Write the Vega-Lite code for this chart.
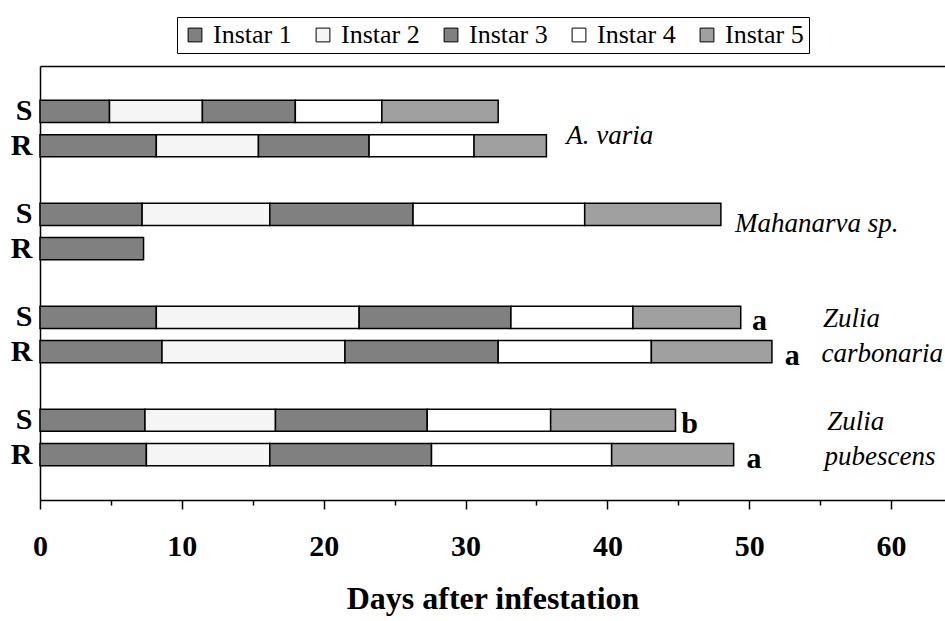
{
  "$schema": "https://vega.github.io/schema/vega-lite/v6.json",
  "width": 905,
  "height": 434,
  "autosize": {"type": "none"},
  "padding": {"left": 40, "top": 66, "right": 0, "bottom": 121},
  "background": "white",
  "config": {
    "font": "Liberation Serif",
    "view": {"stroke": null},
    "axis": {"grid": false, "domainColor": "black", "domainWidth": 1.5, "tickColor": "black", "tickWidth": 1.5}
  },
  "datasets": {
    "segments": [
      {"row": "A. varia S", "instar": "Instar 1", "start": 0, "end": 4.9},
      {"row": "A. varia S", "instar": "Instar 2", "start": 4.9, "end": 11.45},
      {"row": "A. varia S", "instar": "Instar 3", "start": 11.45, "end": 18.0},
      {"row": "A. varia S", "instar": "Instar 4", "start": 18.0, "end": 24.1},
      {"row": "A. varia S", "instar": "Instar 5", "start": 24.1, "end": 32.3},
      {"row": "A. varia R", "instar": "Instar 1", "start": 0, "end": 8.2},
      {"row": "A. varia R", "instar": "Instar 2", "start": 8.2, "end": 15.4},
      {"row": "A. varia R", "instar": "Instar 3", "start": 15.4, "end": 23.2},
      {"row": "A. varia R", "instar": "Instar 4", "start": 23.2, "end": 30.6},
      {"row": "A. varia R", "instar": "Instar 5", "start": 30.6, "end": 35.7},
      {"row": "Mahanarva S", "instar": "Instar 1", "start": 0, "end": 7.2},
      {"row": "Mahanarva S", "instar": "Instar 2", "start": 7.2, "end": 16.2},
      {"row": "Mahanarva S", "instar": "Instar 3", "start": 16.2, "end": 26.3},
      {"row": "Mahanarva S", "instar": "Instar 4", "start": 26.3, "end": 38.4},
      {"row": "Mahanarva S", "instar": "Instar 5", "start": 38.4, "end": 48.0},
      {"row": "Mahanarva R", "instar": "Instar 1", "start": 0, "end": 7.3},
      {"row": "Z. carbonaria S", "instar": "Instar 1", "start": 0, "end": 8.2},
      {"row": "Z. carbonaria S", "instar": "Instar 2", "start": 8.2, "end": 22.5},
      {"row": "Z. carbonaria S", "instar": "Instar 3", "start": 22.5, "end": 33.2},
      {"row": "Z. carbonaria S", "instar": "Instar 4", "start": 33.2, "end": 41.8},
      {"row": "Z. carbonaria S", "instar": "Instar 5", "start": 41.8, "end": 49.4},
      {"row": "Z. carbonaria R", "instar": "Instar 1", "start": 0, "end": 8.6},
      {"row": "Z. carbonaria R", "instar": "Instar 2", "start": 8.6, "end": 21.5},
      {"row": "Z. carbonaria R", "instar": "Instar 3", "start": 21.5, "end": 32.3},
      {"row": "Z. carbonaria R", "instar": "Instar 4", "start": 32.3, "end": 43.1},
      {"row": "Z. carbonaria R", "instar": "Instar 5", "start": 43.1, "end": 51.6},
      {"row": "Z. pubescens S", "instar": "Instar 1", "start": 0, "end": 7.4},
      {"row": "Z. pubescens S", "instar": "Instar 2", "start": 7.4, "end": 16.6},
      {"row": "Z. pubescens S", "instar": "Instar 3", "start": 16.6, "end": 27.3},
      {"row": "Z. pubescens S", "instar": "Instar 4", "start": 27.3, "end": 36.0},
      {"row": "Z. pubescens S", "instar": "Instar 5", "start": 36.0, "end": 44.8},
      {"row": "Z. pubescens R", "instar": "Instar 1", "start": 0, "end": 7.5},
      {"row": "Z. pubescens R", "instar": "Instar 2", "start": 7.5, "end": 16.2},
      {"row": "Z. pubescens R", "instar": "Instar 3", "start": 16.2, "end": 27.6},
      {"row": "Z. pubescens R", "instar": "Instar 4", "start": 27.6, "end": 40.3},
      {"row": "Z. pubescens R", "instar": "Instar 5", "start": 40.3, "end": 48.9}
    ],
    "letters": [
      {"row": "Z. carbonaria S", "letter": "a", "x": 50.2},
      {"row": "Z. carbonaria R", "letter": "a", "x": 52.5},
      {"row": "Z. pubescens S", "letter": "b", "x": 45.2},
      {"row": "Z. pubescens R", "letter": "a", "x": 49.8}
    ],
    "zulia": [
      {"row": "Z. carbonaria S", "label": "Zulia", "x": 55.2},
      {"row": "Z. carbonaria R", "label": "carbonaria", "x": 55.1},
      {"row": "Z. pubescens S", "label": "Zulia", "x": 55.5},
      {"row": "Z. pubescens R", "label": "pubescens", "x": 55.3}
    ],
    "varia": [{"row": "A. varia R", "label": "A. varia", "x": 37.1}],
    "mahanarva": [{"row": "Mahanarva S", "label": "Mahanarva sp.", "x": 49.0}]
  },
  "resolve": {"axis": {"x": "independent"}},
  "layer": [
    {
      "data": {"name": "segments"},
      "mark": {"type": "bar", "stroke": "black", "strokeWidth": 1.5},
      "encoding": {
        "y": {
          "field": "row", "type": "nominal",
          "scale": {
            "domain": ["A. varia S", "A. varia R", "gap1", "Mahanarva S", "Mahanarva R", "gap2", "Z. carbonaria S", "Z. carbonaria R", "gap3", "Z. pubescens S", "Z. pubescens R"],
            "paddingInner": 0.355, "paddingOuter": 1.2
          },
          "axis": {
            "title": null, "ticks": false, "labelPadding": 8,
            "labelFont": "Liberation Serif", "labelFontSize": 30, "labelFontWeight": "bold", "labelColor": "black",
            "labelExpr": "slice(datum.value, -2) == ' S' ? 'S' : (slice(datum.value, -2) == ' R' ? 'R' : '')"
          }
        },
        "x": {
          "field": "start", "type": "quantitative",
          "scale": {"domain": [0, 63.8], "nice": false, "zero": false},
          "axis": {
            "orient": "bottom",
            "values": [0, 5, 10, 15, 20, 25, 30, 35, 40, 45, 50, 55, 60],
            "labelExpr": "datum.value % 10 === 0 ? datum.label : ''",
            "tickSize": {"condition": {"test": "datum.value % 10 === 0", "value": 9}, "value": 5},
            "labelPadding": 22, "labelFont": "Liberation Serif", "labelFontSize": 30, "labelFontWeight": "bold", "labelColor": "black",
            "labelFlush": false,
            "title": "Days after infestation", "titleFont": "Liberation Serif", "titleFontSize": 32, "titleFontWeight": "bold", "titleColor": "black", "titlePadding": 22
          }
        },
        "x2": {"field": "end"},
        "fill": {
          "field": "instar", "type": "nominal",
          "scale": {"domain": ["Instar 1", "Instar 2", "Instar 3", "Instar 4", "Instar 5"], "range": ["#808080", "#f5f5f5", "#808080", "#ffffff", "#a0a0a0"]},
          "legend": {
            "title": null, "orient": "none", "direction": "horizontal", "legendX": 137, "legendY": -49,
            "symbolType": "square", "symbolSize": 190, "symbolStrokeColor": "black", "symbolStrokeWidth": 1, "symbolOpacity": 1,
            "labelFont": "Liberation Serif", "labelFontSize": 26, "labelColor": "black", "labelOffset": 5,
            "columnPadding": 18, "padding": 5, "strokeColor": "black", "fillColor": "white"
          }
        }
      }
    },
    {
      "data": {"name": "letters"},
      "mark": {"type": "text", "align": "left", "baseline": "alphabetic", "dy": 13, "font": "Liberation Serif", "fontSize": 30, "fontWeight": "bold", "color": "black"},
      "encoding": {
        "y": {"field": "row", "type": "nominal"},
        "x": {"field": "x", "type": "quantitative", "axis": null},
        "text": {"field": "letter"}
      }
    },
    {
      "data": {"name": "zulia"},
      "mark": {"type": "text", "align": "left", "baseline": "alphabetic", "dy": 10, "font": "Liberation Serif", "fontSize": 27, "fontStyle": "italic", "color": "black"},
      "encoding": {
        "y": {"field": "row", "type": "nominal"},
        "x": {"field": "x", "type": "quantitative", "axis": {"orient": "top", "labels": false, "ticks": false, "title": null, "domain": true}},
        "text": {"field": "label"}
      }
    },
    {
      "data": {"name": "varia"},
      "mark": {"type": "text", "align": "left", "baseline": "alphabetic", "dy": -2, "font": "Liberation Serif", "fontSize": 27, "fontStyle": "italic", "color": "black"},
      "encoding": {
        "y": {"field": "row", "type": "nominal"},
        "x": {"field": "x", "type": "quantitative", "axis": null},
        "text": {"field": "label"}
      }
    },
    {
      "data": {"name": "mahanarva"},
      "mark": {"type": "text", "align": "left", "baseline": "alphabetic", "dy": 18, "font": "Liberation Serif", "fontSize": 27, "fontStyle": "italic", "color": "black"},
      "encoding": {
        "y": {"field": "row", "type": "nominal"},
        "x": {"field": "x", "type": "quantitative", "axis": null},
        "text": {"field": "label"}
      }
    }
  ]
}
